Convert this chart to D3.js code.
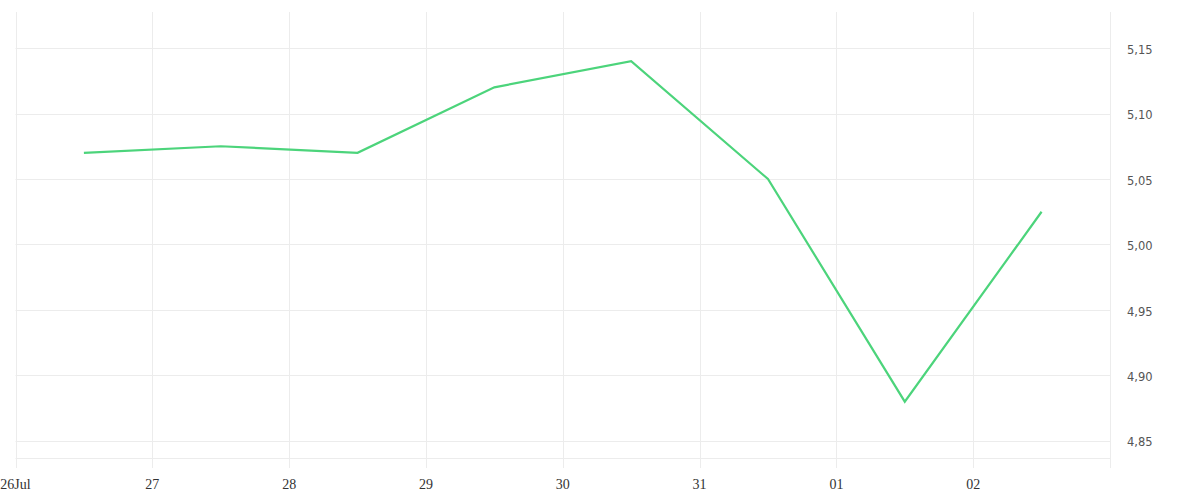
<!DOCTYPE html>
<html><head><meta charset="utf-8">
<script src="https://cdn.jsdelivr.net/npm/d3@7"></script>
<style>body{margin:0;background:#fff}svg{display:block}</style>
</head><body>
<svg id="c" width="1200" height="500"></svg>
<script>
const dates = ["2024-07-26T12:00","2024-07-27T12:00","2024-07-28T12:00","2024-07-29T12:00","2024-07-30T12:00","2024-07-31T12:00","2024-08-01T12:00","2024-08-02T12:00"];
const values = [5.07, 5.075, 5.07, 5.12, 5.14, 5.05, 4.88, 5.025];
const yTicks = [4.85, 4.90, 4.95, 5.00, 5.05, 5.10, 5.15];
const xDomain = ["2024-07-26T00:00","2024-08-03T00:00"];
const yDomain = [4.837, 5.1775];

const parse = d3.isoParse;
const svg = d3.select("#c");
const x = d3.scaleTime().domain(xDomain.map(parse)).range([15.5, 1110]);
const y = d3.scaleLinear().domain(yDomain).range([458, 12]);
const grid = "#ececec";

// vertical day gridlines
const days = d3.timeDay.range(x.domain()[0], d3.timeDay.offset(x.domain()[1], 1));
svg.append("g").selectAll("line").data(days).join("line")
  .attr("x1", d => Math.round(x(d)) + 0.5).attr("x2", d => Math.round(x(d)) + 0.5)
  .attr("y1", 12).attr("y2", 468)
  .attr("stroke", grid).attr("stroke-width", 1);

// horizontal gridlines
svg.append("g").selectAll("line").data(yTicks).join("line")
  .attr("x1", x.range()[0]).attr("x2", x.range()[1])
  .attr("y1", d => Math.round(y(d)) + 0.5).attr("y2", d => Math.round(y(d)) + 0.5)
  .attr("stroke", grid);
svg.append("line").attr("x1", x.range()[0]).attr("x2", x.range()[1])
  .attr("y1", 458.5).attr("y2", 458.5).attr("stroke", grid);

// x labels
const fmt = d3.timeFormat("%d");
svg.append("g").selectAll("text").data(days.slice(0, -1)).join("text")
  .attr("x", d => x(d)).attr("y", 489)
  .attr("text-anchor", "middle")
  .attr("font-family", "Liberation Serif, serif").attr("font-size", 14)
  .attr("fill", "#333")
  .text((d, i) => i === 0 ? fmt(d) + d3.timeFormat("%b")(d) : fmt(d));

// y labels
const yfmt = d => d3.format(".2f")(d).replace(".", ",");
svg.append("g").selectAll("text").data(yTicks).join("text")
  .attr("x", 1127).attr("y", d => y(d) + 1.5).attr("dy", "0.35em")
  .attr("font-family", "DejaVu Sans, sans-serif").attr("font-size", 11.5)
  .attr("fill", "#555")
  .text(yfmt);

// line
const data = dates.map((d, i) => ({d: parse(d), v: values[i]}));
svg.append("path").datum(data)
  .attr("fill", "none").attr("stroke", "#4cd47b").attr("stroke-width", 2.2)
  .attr("stroke-linejoin", "miter")
  .attr("d", d3.line().x(p => x(p.d)).y(p => y(p.v)));
</script>
</body></html>
